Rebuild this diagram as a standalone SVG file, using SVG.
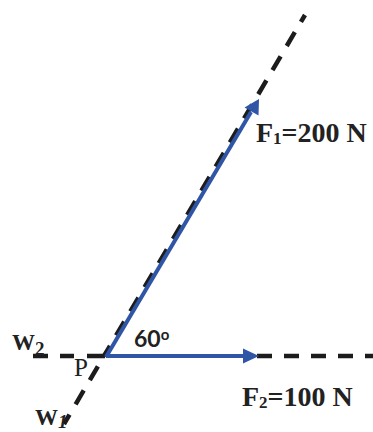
<svg xmlns="http://www.w3.org/2000/svg" width="373" height="432" viewBox="0 0 373 432">
  <style>
    .dash { stroke: #1c1c1c; stroke-width: 4.5; fill: none; stroke-linecap: butt; }
    .force { stroke: #2F55A6; stroke-width: 4; fill: none; }
    .head { fill: #2F55A6; }
    .lbl { font-family: "Liberation Serif", "Times New Roman", serif; fill: #222; }
    .b { font-weight: bold; }
    .ang { font-family: Lato, "Open Sans", sans-serif; font-weight: bold; fill: #222; }
  </style>
  <rect width="373" height="432" fill="#ffffff"/>
  <g id="connectors">
    <!-- W1 line of action (upper part) -->
    <path class="dash" d="M305,15 L104,356" stroke-dasharray="16 12" stroke-dashoffset="8"/>
    <!-- W1 line of action (lower part) -->
    <path class="dash" d="M104,356 L64,424" stroke-dasharray="16 12" stroke-dashoffset="16"/>
    <!-- W2 line of action -->
    <path class="dash" d="M105,356 L32,356" stroke-dasharray="18 13 14 12 15 20"/>
    <path class="dash" d="M257,356 L373,356" stroke-dasharray="15 12"/>
    <!-- forces -->
    <g id="F1">
      <path class="force" d="M106,357 L251,112"/>
      <polygon class="head" points="259,99 258.5,115.5 244.5,107.5"/>
    </g>
    <g id="F2">
      <path class="force" d="M106,356 L245,356"/>
      <polygon class="head" points="259,356 243,348.5 243,363.5"/>
    </g>
  </g>
  <g id="label-F1">
    <text class="lbl b" x="256" y="142" font-size="28">F<tspan font-size="17" dy="2">1</tspan><tspan dy="-2">=200 N</tspan></text>
  </g>
  <g id="label-F2">
    <text class="lbl b" x="242" y="406" font-size="28">F<tspan font-size="17" dy="2">2</tspan><tspan dy="-2">=100 N</tspan></text>
  </g>
  <g id="label-angle">
    <text class="ang" x="134" y="347" font-size="23">60<tspan font-size="15" dy="-7">o</tspan></text>
  </g>
  <g id="label-P">
    <text class="lbl" x="74" y="376" font-size="25">P</text>
  </g>
  <g id="label-W2">
    <text class="lbl b" x="12" y="350" font-size="23">W<tspan font-size="19" dy="5">2</tspan></text>
  </g>
  <g id="label-W1">
    <text class="lbl b" x="35" y="425" font-size="23">W<tspan font-size="19" font-style="italic" dy="3">1</tspan></text>
  </g>
</svg>
